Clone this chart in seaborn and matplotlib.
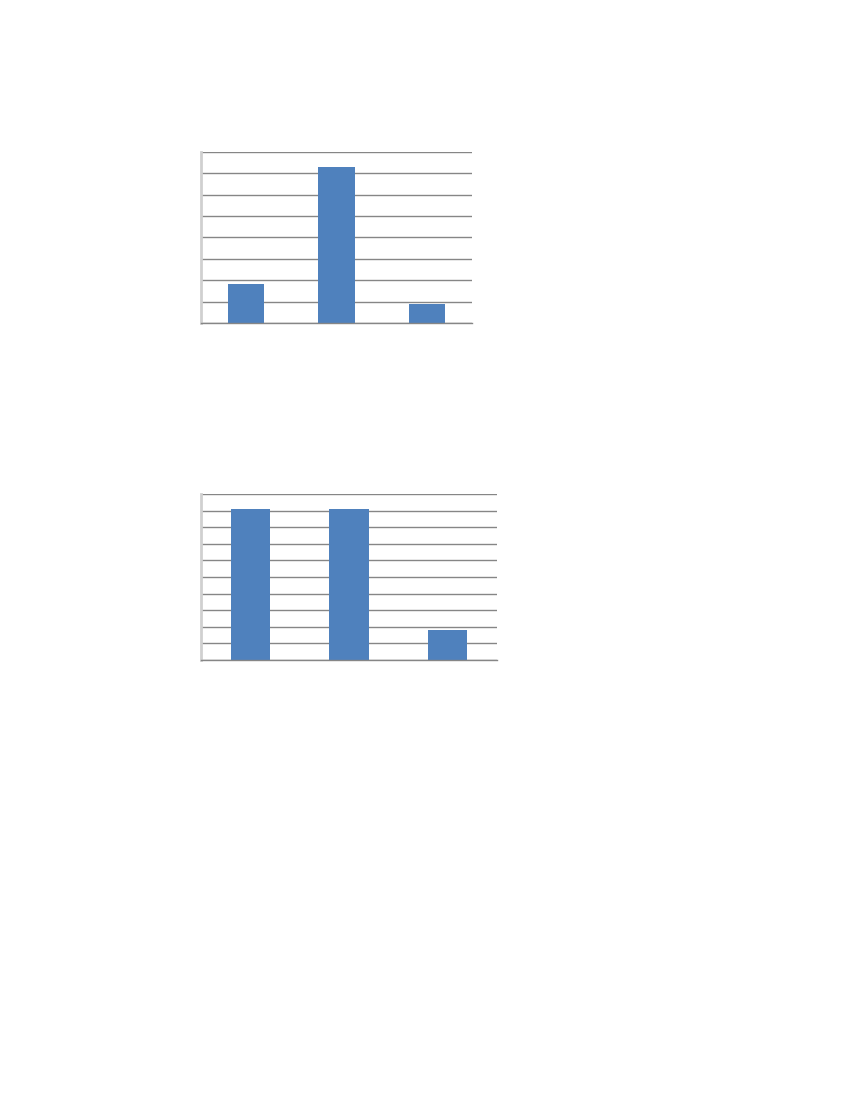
import matplotlib
matplotlib.use('Agg')
import matplotlib.pyplot as plt
import seaborn as sns
import pandas as pd

# values (no labels shown in the original)
categories = ['1', '2', '3']
top_values = [1.82, 7.28, 0.9]     # upper chart, axis 0..8
bottom_values = [9.1, 9.1, 1.82]   # lower chart, axis 0..10

sns.set_style('white')
bar_color = '#4F81BD'


def draw_chart(ax, values, ymax):
    df = pd.DataFrame({'cat': categories, 'val': values})
    sns.barplot(data=df, x='cat', y='val', color=bar_color, width=0.4,
                saturation=1, linewidth=0, ax=ax)
    ax.set_xlim(-0.5, len(categories) - 0.5)
    ax.set_ylim(0, ymax)
    ax.set_yticks(range(0, ymax + 1))
    ax.set_yticklabels([])
    ax.set_xticks([i - 0.5 for i in range(len(categories) + 1)])
    ax.set_xticklabels([])
    ax.set_xlabel('')
    ax.set_ylabel('')
    ax.yaxis.grid(True, color='#868686', linewidth=1)
    ax.set_axisbelow(True)
    for s in ['top', 'right']:
        ax.spines[s].set_visible(False)
    ax.spines['left'].set_color('#D0D0D0')
    ax.spines['left'].set_linewidth(2)
    ax.spines['bottom'].set_color('#868686')
    ax.spines['bottom'].set_linewidth(1)
    ax.tick_params(axis='y', direction='out', length=3, color='#BFBFBF', width=1)
    ax.tick_params(axis='x', direction='out', length=4, color='#868686', width=1)


fig = plt.figure(figsize=(8.5, 11), dpi=100)
ax1 = fig.add_axes([0.2365, 0.7064, 0.3188, 0.1555])
ax2 = fig.add_axes([0.2365, 0.4, 0.3482, 0.1509])
draw_chart(ax1, top_values, 8)
draw_chart(ax2, bottom_values, 10)

fig.savefig('out.png', dpi=100)
